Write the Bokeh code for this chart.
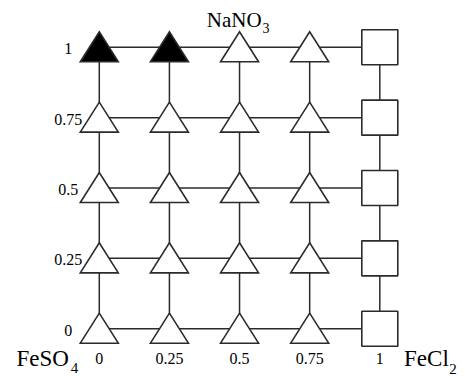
from bokeh.plotting import figure
from bokeh.models import ColumnDataSource
from bokeh.core.properties import value
from bokeh.embed import file_html
from bokeh.resources import INLINE

# ---- data ----
fecl2_fraction = [0, 0.25, 0.5, 0.75, 1]      # x positions
nano3_fraction = [0, 0.25, 0.5, 0.75, 1]      # y positions
x_tick_labels = ["0", "0.25", "0.5", "0.75", "1"]
y_tick_labels = ["0", "0.25", "0.5", "0.75", "1"]
solid_x = [0, 0.25]          # filled (black) triangles
solid_y = [1, 1]
square_column = 1            # x value whose points are squares

# ---- figure geometry ----
W, H = 465, 376
XR = (-0.3522, 1.3055)
YR = (-0.1699, 1.1663)
px_x = (XR[1] - XR[0]) / W
px_y = (YR[1] - YR[0]) / H

p = figure(width=W, height=H, x_range=XR, y_range=YR, output_backend="svg",
           toolbar_location=None, min_border=0, x_axis_type=None, y_axis_type=None)
p.grid.visible = False
p.outline_line_color = None

LINE = "#2b2b2b"

# grid connecting lines
x0, x1 = min(fecl2_fraction), max(fecl2_fraction)
y0, y1 = min(nano3_fraction), max(nano3_fraction)
p.segment(x0=[x0] * len(nano3_fraction), y0=nano3_fraction,
          x1=[x1] * len(nano3_fraction), y1=nano3_fraction,
          line_color=LINE, line_width=1.5)
p.segment(x0=fecl2_fraction, y0=[y0] * len(fecl2_fraction),
          x1=fecl2_fraction, y1=[y1] * len(fecl2_fraction),
          line_color=LINE, line_width=1.5)

# triangles
half_w = 19 * px_x
up = 15.5 * px_y
down = 14.5 * px_y
tri_xs, tri_ys, tri_fill = [], [], []
for xv in fecl2_fraction:
    if xv == square_column:
        continue
    for yv in nano3_fraction:
        tri_xs.append([xv - half_w, xv + half_w, xv])
        tri_ys.append([yv - down, yv - down, yv + up])
        is_solid = any(sx == xv and sy == yv for sx, sy in zip(solid_x, solid_y))
        tri_fill.append("black" if is_solid else "white")
p.patches(xs="xs", ys="ys", fill_color="fill",
          source=ColumnDataSource(dict(xs=tri_xs, ys=tri_ys, fill=tri_fill)),
          line_color=LINE, line_width=1.6, line_join="miter")

# squares
sq_y = list(nano3_fraction)
sq_x = [square_column] * len(sq_y)
p.rect(x=sq_x, y=sq_y, width=36, height=35, width_units="screen", height_units="screen",
       fill_color="white", line_color=LINE, line_width=1.6)

FONT = value("Liberation Serif")

# tick labels
p.text(x=fecl2_fraction, y=[y0] * len(fecl2_fraction), text=x_tick_labels,
       text_font=FONT, text_font_size="16px", text_align="center",
       text_baseline="middle", y_offset=30, text_color="black")
p.text(x=[x0] * len(nano3_fraction), y=nano3_fraction, text=y_tick_labels,
       text_font=FONT, text_font_size="16px", text_align="center",
       text_baseline="middle", x_offset=-31, y_offset=1.5, text_color="black")

# component labels
p.text(x=[x0], y=[y0], text=["FeSO"], text_font=FONT, text_font_size="23px",
       text_align="right", text_baseline="middle", x_offset=-30.5, y_offset=29.5)
p.text(x=[x0], y=[y0], text=["4"], text_font=FONT, text_font_size="15px",
       text_align="left", text_baseline="middle", x_offset=-28.5, y_offset=39.5)
p.text(x=[x1], y=[y0], text=["FeCl"], text_font=FONT, text_font_size="23px",
       text_align="right", text_baseline="middle", x_offset=69, y_offset=30)
p.text(x=[x1], y=[y0], text=["2"], text_font=FONT, text_font_size="15px",
       text_align="left", text_baseline="middle", x_offset=69.5, y_offset=40.5)
p.text(x=[0.5], y=[y1], text=["NaNO"], text_font=FONT, text_font_size="21px",
       text_align="right", text_baseline="middle", x_offset=22, y_offset=-27)
p.text(x=[0.5], y=[y1], text=["3"], text_font=FONT, text_font_size="14px",
       text_align="left", text_baseline="middle", x_offset=23, y_offset=-19.5)

open("out.html", "w").write(file_html(p, INLINE))
